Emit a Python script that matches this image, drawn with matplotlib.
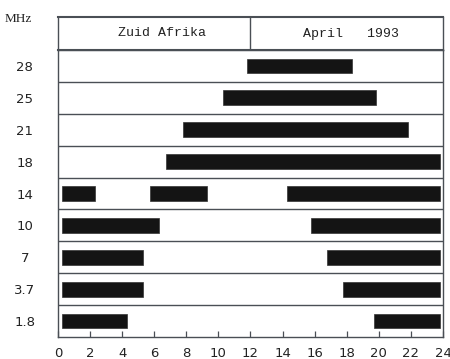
import matplotlib
matplotlib.use('Agg')
import matplotlib.pyplot as plt

# bands, top to bottom
bands = ['28', '25', '21', '18', '14', '10', '7', '3.7', '1.8']
# open periods (hour start, hour end) per band
openings = [
    [(11.8, 18.3)],
    [(10.3, 19.8)],
    [(7.8, 21.8)],
    [(6.75, 23.8)],
    [(0.25, 2.3), (5.75, 9.3), (14.25, 23.8)],
    [(0.25, 6.3), (15.75, 23.8)],
    [(0.25, 5.3), (16.75, 23.8)],
    [(0.25, 5.3), (17.75, 23.8)],
    [(0.25, 4.3), (19.7, 23.8)],
]
hours = list(range(0, 25, 2))
header_left = 'Zuid Afrika'
header_right = 'April   1993'

line_col = '#4a4f55'
bar_col = '#141414'
text_col = '#222222'

fig = plt.figure(figsize=(4.5, 3.59), dpi=100)
ax = fig.add_axes([58 / 450, 1 - 337 / 359, 385 / 450, 287 / 359])
hax = fig.add_axes([58 / 450, 1 - 50 / 359, 385 / 450, 33 / 359])

n = len(bands)
for i, (band, spans) in enumerate(zip(bands, openings)):
    y = n - 1 - i
    for s, e in spans:
        ax.barh(y, e - s, left=s, height=0.46, color=bar_col, edgecolor='#333', lw=0.5)

for k in range(n - 1):
    ax.axhline(k + 0.5, color=line_col, lw=1)

ax.set_xlim(0, 24)
ax.set_ylim(-0.5, n - 0.5)
ax.set_xticks(hours)
ax.set_xticklabels([str(h) for h in hours], fontsize=9.5, family='DejaVu Sans', color=text_col)
ax.tick_params(axis='x', direction='in', length=4.5, width=0.9, color=line_col, pad=7)
ax.set_yticks(range(n))
ax.set_yticklabels(bands[::-1], fontsize=9.5, family='DejaVu Sans', ha='center', color=text_col)
ax.tick_params(axis='y', length=0, pad=24)
for sp in ax.spines.values():
    sp.set_color(line_col)
    sp.set_linewidth(1)

hax.set_xlim(0, 24)
hax.set_ylim(0, 1)
hax.set_xticks([])
hax.set_yticks([])
for sp in hax.spines.values():
    sp.set_color(line_col)
    sp.set_linewidth(1)
hax.spines['top'].set_linewidth(1.5)
hax.spines['bottom'].set_linewidth(1.5)
hax.axvline(12, color=line_col, lw=1)
hax.text(6.5, 0.5, header_left, ha='center', va='center', fontsize=9.5,
         family='Liberation Mono', color=text_col)
hax.text(18.25, 0.5, header_right, ha='center', va='center', fontsize=9.5,
         family='Liberation Mono', color=text_col)

fig.text(18 / 450, 1 - 19 / 359, 'MHz', ha='center', va='center', fontsize=9.5,
         family='Liberation Serif', color=text_col)

fig.savefig('out.png', dpi=100)
